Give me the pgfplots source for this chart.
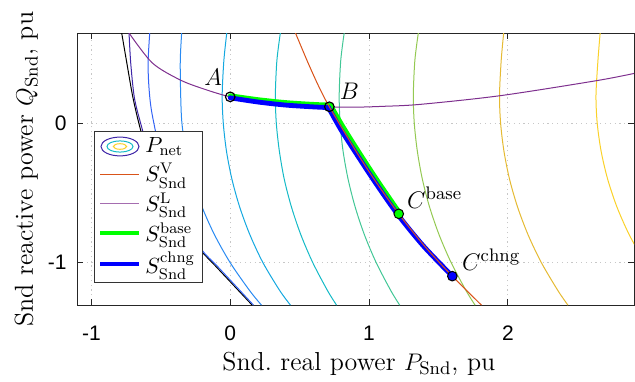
\documentclass[border=0pt]{standalone}
\usepackage{fontspec}
\usepackage{pgfplots}
\pgfplotsset{compat=1.18}
\newfontfamily\ticksf{Liberation Sans}
\definecolor{c1}{rgb}{0.2422,0.1504,0.6603}
\definecolor{c2}{rgb}{0.20,0.39,0.96}
\definecolor{c3}{rgb}{0.16,0.54,0.95}
\definecolor{c4}{rgb}{0.08,0.66,0.88}
\definecolor{c5}{rgb}{0.08,0.73,0.78}
\definecolor{c6}{rgb}{0.26,0.78,0.59}
\definecolor{c7}{rgb}{0.58,0.79,0.32}
\definecolor{c8}{rgb}{0.90,0.73,0.20}
\definecolor{c9}{rgb}{0.98,0.82,0.16}
\definecolor{sv}{rgb}{0.85,0.325,0.098}
\definecolor{sl}{rgb}{0.494,0.184,0.556}
\begin{document}
\begin{tikzpicture}
\begin{axis}[
  at={(0,0)}, anchor=south west,
  scale only axis, width=278.5pt, height=136pt,
  xmin=-1.104, xmax=2.909, ymin=-1.303, ymax=0.648,
  xtick={-1,0,1,2}, ytick={-1,0},
  tick align=inside, major tick length=3pt,
  grid=major, grid style={black!22, line width=0.4pt, dash pattern=on 0.6pt off 1.8pt},
  axis line style={black!85, line width=0.5pt},
  every tick/.style={black!85, line width=0.5pt},
  ticklabel style={font=\ticksf\fontsize{10.5}{12}\selectfont},
  xticklabel shift=7pt,
  yticklabel shift=1.7pt,
  /pgf/number format/assume math mode=true,
  xlabel={Snd.\ real power $P_{\mathrm{Snd}}$, pu},
  ylabel={Snd reactive power $Q_{\mathrm{Snd}}$, pu},
  every axis x label/.style={at={(axis description cs:0.506,-0.239)}, anchor=base},
  every axis y label/.style={at={(axis description cs:-0.079,0.5)}, rotate=90, anchor=base},
  label style={font=\fontsize{13}{15}\selectfont},
  legend image code/.code={\draw[#1] (0pt,0pt) -- (19.5pt,0pt);},
  legend style={at={(axis description cs:0.0305,0.6397)}, anchor=north west,
    draw=black!80, line width=0.5pt, fill=white,
    font=\fontsize{11}{13}\selectfont, inner xsep=2pt, inner ysep=1pt, row sep=0pt},
  legend cell align=left,
]
% legend entries
\addlegendimage{legend image code/.code={
  \draw[c1, line width=0.5pt] (9.75pt,0pt) ellipse [x radius=9.5pt, y radius=4.7pt];
  \draw[c5, line width=0.5pt] (9.75pt,0pt) ellipse [x radius=6.5pt, y radius=2.8pt];
  \draw[c9, line width=0.5pt] (9.75pt,0pt) ellipse [x radius=3.3pt, y radius=1.4pt];}}
\addlegendentry{$P_{\mathrm{net}}$}
\addlegendimage{sv, line width=0.6pt}
\addlegendentry{$S^{\mathrm{V}}_{\mathrm{Snd}}$}
\addlegendimage{sl!70, line width=0.6pt}
\addlegendentry{$S^{\mathrm{L}}_{\mathrm{Snd}}$}
\addlegendimage{green, line width=2pt}
\addlegendentry{$S^{\mathrm{base}}_{\mathrm{Snd}}$}
\addlegendimage{blue, line width=2pt}
\addlegendentry{$S^{\mathrm{chng}}_{\mathrm{Snd}}$}

% contours
\addplot[black, line width=0.5pt, smooth, forget plot] coordinates {(-0.782,0.648) (-0.745,0.433) (-0.700,0.18) (-0.645,-0.05) (-0.578,-0.265) (-0.493,-0.48) (-0.375,-0.694) (-0.214,-0.909) (-0.10,-1.03) (0.158,-1.304)};
\addplot[c1, line width=0.5pt, smooth, forget plot] coordinates {(-0.729,0.648) (-0.717,0.433) (-0.69,0.18) (-0.64,-0.02) (-0.59,-0.2)};
\addplot[c2, line width=0.5pt, smooth, forget plot] coordinates {(-0.58,0.648) (-0.592,0.433) (-0.585,0.25) (-0.568,0.095) (-0.525,-0.12) (-0.49,-0.265) (-0.43,-0.48) (-0.33,-0.694) (-0.203,-0.909) (-0.088,-1.03) (0.168,-1.304)};
\addplot[c3, line width=0.5pt, smooth, forget plot] coordinates {(-0.35,0.648) (-0.36,0.45) (-0.357,0.2) (-0.348,0.0) (-0.318,-0.2) (-0.270,-0.4) (-0.203,-0.6) (-0.113,-0.8) (0.0,-1.0) (0.14,-1.2) (0.225,-1.304)};
\addplot[c4, line width=0.5pt, smooth, forget plot] coordinates {(-0.025,0.648) (-0.046,0.45) (-0.058,0.2) (-0.050,0.0) (-0.027,-0.2) (0.012,-0.4) (0.068,-0.6) (0.142,-0.8) (0.236,-1.0) (0.357,-1.2) (0.434,-1.304)};
\addplot[c5, line width=0.5pt, smooth, forget plot] coordinates {(0.361,0.648) (0.336,0.45) (0.325,0.2) (0.332,0.0) (0.354,-0.2) (0.389,-0.4) (0.441,-0.6) (0.509,-0.8) (0.595,-1.0) (0.701,-1.2) (0.766,-1.304)};
\addplot[c6, line width=0.5pt, smooth, forget plot] coordinates {(0.821,0.648) (0.796,0.45) (0.785,0.2) (0.792,0.0) (0.813,-0.2) (0.849,-0.4) (0.900,-0.6) (0.967,-0.8) (1.052,-1.0) (1.157,-1.2) (1.221,-1.304)};
\addplot[c7, line width=0.5pt, smooth, forget plot] coordinates {(1.355,0.648) (1.330,0.45) (1.319,0.2) (1.326,0.0) (1.348,-0.2) (1.384,-0.4) (1.436,-0.6) (1.505,-0.8) (1.592,-1.0) (1.699,-1.2) (1.764,-1.304)};
\addplot[c8, line width=0.5pt, smooth, forget plot] coordinates {(1.970,0.648) (1.952,0.45) (1.940,0.2) (1.948,0.0) (1.972,-0.2) (2.012,-0.4) (2.070,-0.6) (2.146,-0.8) (2.242,-1.0) (2.361,-1.2) (2.433,-1.304)};
\addplot[c9, line width=0.5pt, smooth, forget plot] coordinates {(2.665,0.648) (2.649,0.45) (2.635,0.2) (2.644,0.0) (2.672,-0.2) (2.719,-0.4) (2.786,-0.6) (2.875,-0.8) (2.987,-1.0)};

% S^L
\addplot[sl, line width=0.5pt, smooth, forget plot] coordinates {(-0.729,0.648) (-0.561,0.433) (-0.36,0.311) (-0.18,0.243) (0,0.19) (0.2,0.158) (0.4,0.136) (0.6,0.122) (0.714,0.118) (0.9,0.116) (1.1,0.122) (1.367,0.136) (1.942,0.198) (2.638,0.306) (2.914,0.359)};
% S^base
\addplot[green, line width=2.4pt, line cap=round, smooth, forget plot] coordinates {(0,0.198) (0.2,0.17) (0.4,0.149) (0.6,0.136) (0.722,0.131)};
\addplot[green, line width=2.4pt, line cap=round, smooth, forget plot] coordinates {(0.722,0.131) (0.81,-0.02) (0.91,-0.18) (1.06,-0.41) (1.222,-0.645)};
% S^chng
\addplot[blue, line width=2.4pt, line cap=round, smooth, forget plot] coordinates {(0,0.183) (0.2,0.153) (0.4,0.131) (0.6,0.118) (0.708,0.113)};
\addplot[blue, line width=2.4pt, line cap=round, smooth, forget plot] coordinates {(0.708,0.113) (0.794,-0.04) (0.89,-0.19) (1.042,-0.42) (1.206,-0.653) (1.392,-0.88) (1.60,-1.096)};
% S^V
\addplot[sv, line width=0.5pt, smooth, forget plot] coordinates {(0.47,0.648) (0.561,0.433) (0.64,0.26) (0.714,0.119) (0.9,-0.19) (1.05,-0.42) (1.214,-0.649) (1.4,-0.88) (1.60,-1.096) (1.81,-1.304)};

% points
\addplot[only marks, mark=o, mark size=2.4pt, black, line width=0.6pt, forget plot] coordinates {(0,0.19) (0.714,0.119)};
\addplot[only marks, mark=*, mark size=2.4pt, draw=black, fill=green, line width=0.5pt, forget plot] coordinates {(1.214,-0.649)};
\addplot[only marks, mark=*, mark size=2.4pt, draw=black, fill=blue, line width=0.5pt, forget plot] coordinates {(1.60,-1.096)};

\node[anchor=base west, inner sep=0pt, font=\fontsize{13}{15}\selectfont] at (axis cs:-0.19,0.274) {$A$};
\node[anchor=base west, inner sep=0pt, font=\fontsize{13}{15}\selectfont] at (axis cs:0.787,0.174) {$B$};
\node[anchor=base west, inner sep=0pt, font=\fontsize{13}{15}\selectfont] at (axis cs:1.272,-0.61) {$C^{\mathrm{base}}$};
\node[anchor=base west, inner sep=0pt, font=\fontsize{13}{15}\selectfont] at (axis cs:1.668,-1.052) {$C^{\mathrm{chng}}$};
\end{axis}
\pgfresetboundingbox
\useasboundingbox (-38.5pt,-38pt) rectangle (279pt,152.5pt);
\end{tikzpicture}
\end{document}
